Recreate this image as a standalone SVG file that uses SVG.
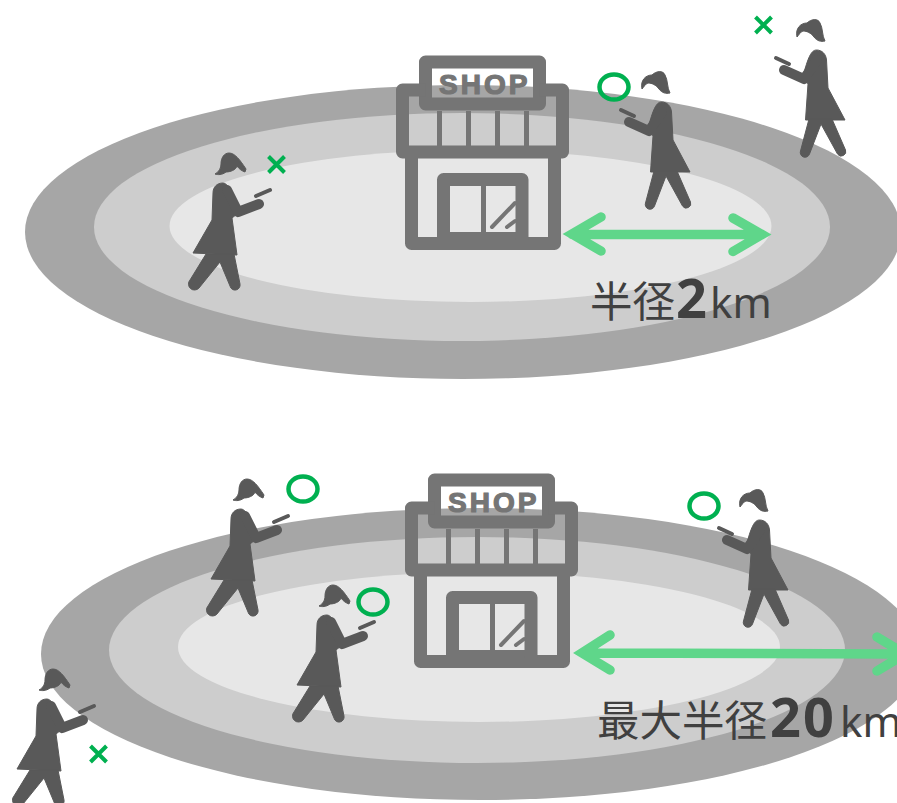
<svg xmlns="http://www.w3.org/2000/svg" xmlns:xlink="http://www.w3.org/1999/xlink" width="897" height="803" viewBox="0 0 897 803">
<style>
.outer{fill:#a6a6a6}.mid{fill:#cdcdcd}.inner{fill:#e7e7e7}
.sh{fill:none;stroke:#757575;stroke-width:13;stroke-linejoin:round}
.shd{fill:none;stroke:#757575;stroke-width:5}
.hatch{fill:none;stroke:#757575;stroke-width:4;stroke-linecap:round}
.shoptext{font-family:"Liberation Sans",Arial,sans-serif;font-weight:700;font-size:28px;fill:#757575;stroke:#757575;stroke-width:1.2px;letter-spacing:3px}
.p{fill:#595959;stroke:#595959;stroke-width:1;stroke-linejoin:round}.ps{fill:none;stroke:#595959;stroke-linecap:round;stroke-linejoin:round}
.ok{fill:none;stroke:#00b050;stroke-width:4.5}
.ng{fill:none;stroke:#00b050;stroke-width:4}
.ar{fill:none;stroke:#5fd68a;stroke-width:9.5;stroke-linecap:round;stroke-miterlimit:6}
.lbl{font-family:"Noto Sans CJK JP","Noto Sans",sans-serif;font-size:42.5px;fill:#404040}
.num{font-family:"Noto Sans","Noto Sans CJK JP",sans-serif;font-weight:700;font-size:54px;fill:#404040}
.unit{font-family:"Noto Sans","Noto Sans CJK JP",sans-serif;font-size:42px;fill:#404040}
</style>
<defs>
<g id="shop">
<rect class="sh" x="425.500" y="62" width="114" height="42"/>
<path class="sh" d="M425.500 90H402.500V152H562.500V90H539.500"/>
<path class="shd" d="M439.500 111V147M468.500 111V147M497.500 111V147M526.500 111V147"/>
<path class="sh" d="M411.500 155V243.500H554.500V155"/>
<path class="sh" d="M443.500 240V179.500H522V240"/>
<path class="shd" d="M483.500 184V234"/>
<path class="sh" style="stroke-width:6" d="M448 235H518"/>
<path class="hatch" d="M492 227L515 203M507 227L515 221"/>
<text class="shoptext" x="439" y="94">SHOP</text>
</g>
<g id="wl">
<path class="p" d="M52 89C50 80 56 75 62 75C66 71 73 70 75 75C78 80 77 88 80 93C76 94 72 93 69 89C66 85 62 83 58 83C55 84 54 87 52 89Z"/>
<path class="p" d="M71.500 102C77 102 81 106 81.500 112L83 140L100 172L60.500 172L63 136L58 128C63 110 66 102 71.500 102Z"/>
<path class="ps" stroke-width="10" d="M39 122L59 131L72 112"/>
<path class="p" d="M64 171L55.500 203A4.500 4.500 0 0 0 64.500 206L76 176L92.500 206A4.500 4.500 0 0 0 100.500 202L87 171Z"/>
<path class="ps" stroke-width="4" d="M31 110L44 116"/>
</g>
<g id="wr">
<path class="p" d="M35 34C39 32 41 28 41 24C41 18 44 13 49 13C55 13 60 20 66 29L65 32C62 31 59 29 57 26C56 30 50 32 46 32C42 35 38 35 35 34Z"/>
<path class="p" d="M43 43C37 43 33 47 33 53L32 80L13 113L57 115L52 78L57 74L50 48C47 45 45 43 43 43Z"/>
<path class="ps" stroke-width="10" d="M47 50L58 72L79 64"/>
<path class="p" d="M26 114L10 140A5 5 0 0 0 19 148L40 122L50 146A5 5 0 0 0 60 144L54 114Z"/>
<path class="ps" stroke-width="4" d="M76 56L90 50"/>
</g>
<path id="x" d="M-8 -8L8 8M-8 8L8 -8"/>
</defs>
<g id="zone-2km">
<ellipse class="outer" cx="463" cy="232" rx="438" ry="147"/>
<ellipse class="mid" cx="462" cy="227" rx="368" ry="114"/>
<ellipse class="inner" cx="470.500" cy="226" rx="301" ry="76"/>
</g>
<g id="zone-20km">
<ellipse class="outer" cx="480" cy="654" rx="439" ry="146"/>
<ellipse class="mid" cx="477" cy="650" rx="368" ry="113"/>
<ellipse class="inner" cx="479" cy="647" rx="301" ry="75"/>
</g>
<g id="shop-top"><use xlink:href="#shop" href="#shop"/></g>
<g id="shop-bottom"><use xlink:href="#shop" href="#shop" transform="translate(9 418)"/></g>
<g id="person-top-left"><use href="#wr" transform="translate(180 140)"/><use href="#x" class="ng" x="276.500" y="164.500"/></g>
<g id="person-top-mid"><use href="#wl" transform="translate(590 0)"/><ellipse class="ok" cx="614" cy="87" rx="14.500" ry="12.500"/></g>
<g id="person-top-right"><use href="#wl" transform="translate(745 -52)"/><use href="#x" class="ng" x="763.500" y="25"/></g>
<g id="person-bottom-a"><use href="#wr" transform="translate(198 466)"/><ellipse class="ok" cx="303" cy="489" rx="14.500" ry="12.500"/></g>
<g id="person-bottom-b"><use href="#wr" transform="translate(284 572)"/><ellipse class="ok" cx="373" cy="602" rx="14.500" ry="12.500"/></g>
<g id="person-bottom-c"><use href="#wl" transform="translate(688 418)"/><ellipse class="ok" cx="704" cy="506" rx="14.500" ry="12.500"/></g>
<g id="person-bottom-d"><use href="#wr" transform="translate(4 656)"/><use href="#x" class="ng" x="98.500" y="754"/></g>
<g id="connectors">
<path class="ar" d="M572 234.500H761M601 217L572 234L601 251M733 218L762 234.500L733 251.500"/>
<path class="ar" d="M582 653L905 654M610 635L582 653L610 670M877 637L905 654L877 671"/>
</g>
<g id="label-2km"><text class="lbl" x="590" y="317">半径</text><text class="num" x="676" y="318">2</text><text class="unit" x="710" y="318">km</text></g>
<g id="label-20km"><text class="lbl" x="597" y="736">最大半径</text><text class="num" x="770" y="737" style="letter-spacing:2px">20</text><text class="unit" x="840" y="737">km</text></g>
</svg>
